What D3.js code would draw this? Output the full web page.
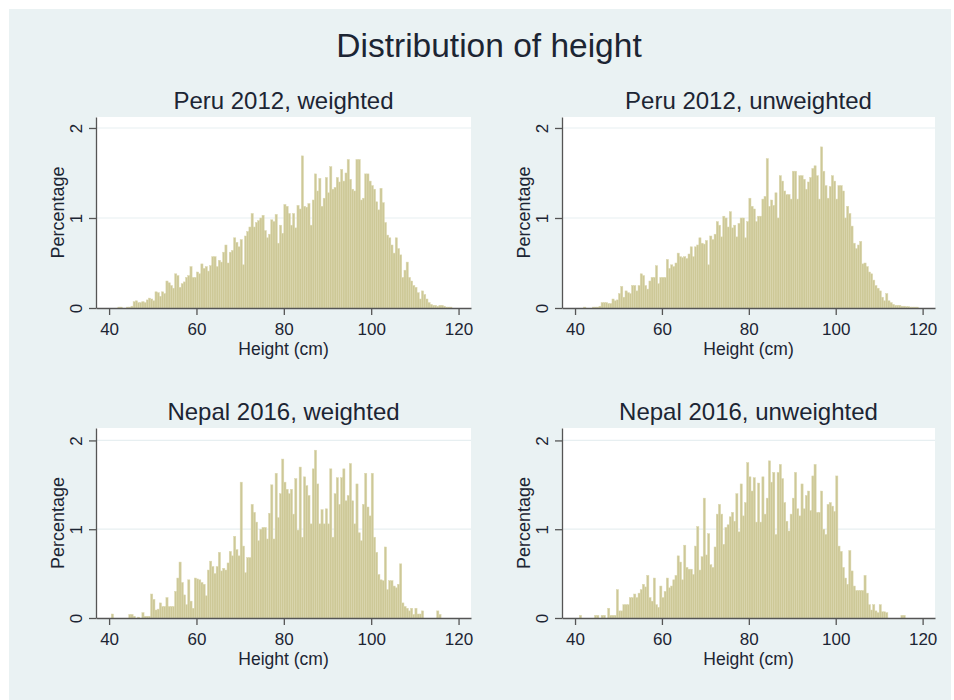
<!DOCTYPE html>
<html>
<head>
<meta charset="utf-8">
<script src="https://cdn.jsdelivr.net/npm/d3@7"></script>
<style>
  body { margin: 0; background: #fff; }
  svg text { font-family: "Liberation Sans", Arial, sans-serif; fill: #1c2533; }
</style>
</head>
<body>
<svg id="chart" width="954" height="700"></svg>
<script>
"use strict";

// histogram bins: 0.5 cm wide, first bin starts at 40 cm
const binStart = 40;
const binWidth = 0.5;

const xTicks = [40, 60, 80, 100, 120];
const yTicks = [0, 1, 2];

const mainTitle = "Distribution of height";
const panelTitles = ["Peru 2012, weighted", "Peru 2012, unweighted",
                     "Nepal 2016, weighted", "Nepal 2016, unweighted"];
const xTitle = "Height (cm)";
const yTitle = "Percentage";

// percentage of children per bin
const peruWeighted = [
    0, 0, 0, 0, 0.01, 0.01, 0, 0, 0.01, 0.01,
    0.02, 0.07, 0.08, 0.06, 0.06, 0.07, 0.06, 0.09, 0.11, 0.10,
    0.08, 0.18, 0.17, 0.13, 0.18, 0.16, 0.30, 0.28, 0.25, 0.22,
    0.38, 0.36, 0.23, 0.27, 0.29, 0.34, 0.36, 0.46, 0.34, 0.34,
    0.40, 0.38, 0.49, 0.44, 0.46, 0.41, 0.47, 0.57, 0.57, 0.46,
    0.53, 0.51, 0.62, 0.70, 0.50, 0.62, 0.64, 0.78, 0.73, 0.68,
    0.76, 0.48, 0.80, 0.85, 0.90, 1.05, 0.90, 0.95, 0.97, 1.00,
    1.03, 0.86, 0.78, 0.82, 0.98, 0.96, 1.04, 0.72, 0.92, 0.83,
    1.15, 1.13, 1.05, 0.92, 1.05, 0.89, 1.14, 1.10, 1.69, 1.13,
    1.12, 1.16, 0.92, 1.20, 1.49, 1.30, 1.44, 1.13, 1.22, 1.45,
    1.28, 1.57, 1.32, 1.34, 1.45, 1.40, 1.54, 1.41, 1.50, 1.65,
    1.43, 1.32, 1.30, 1.65, 1.65, 1.20, 1.22, 1.49, 1.49, 1.41,
    1.36, 1.32, 1.18, 1.09, 1.33, 1.17, 0.95, 0.81, 0.78, 0.70,
    0.61, 0.78, 0.66, 0.59, 0.34, 0.42, 0.51, 0.34, 0.30, 0.25,
    0.23, 0.17, 0.10, 0.19, 0.15, 0.10, 0.06, 0.04, 0.03, 0.03,
    0.02, 0.03, 0.03, 0.02, 0.01, 0.01, 0.01, 0, 0, 0
];

const peruUnweighted = [
    0, 0, 0, 0, 0.01, 0, 0, 0, 0.01, 0.01,
    0.01, 0.02, 0.06, 0.06, 0.06, 0.05, 0.05, 0.10, 0.08, 0.09,
    0.16, 0.24, 0.12, 0.19, 0.17, 0.16, 0.25, 0.25, 0.19, 0.25,
    0.38, 0.36, 0.25, 0.21, 0.30, 0.34, 0.34, 0.47, 0.27, 0.34,
    0.34, 0.34, 0.54, 0.44, 0.48, 0.46, 0.50, 0.61, 0.57, 0.56,
    0.57, 0.55, 0.60, 0.68, 0.57, 0.68, 0.70, 0.78, 0.72, 0.71,
    0.75, 0.48, 0.80, 0.76, 0.82, 0.96, 0.92, 0.79, 1.02, 1.00,
    0.90, 1.07, 0.89, 0.92, 0.79, 0.94, 1.00, 1.00, 0.78, 0.96,
    1.22, 1.13, 1.10, 0.96, 1.02, 1.02, 1.21, 1.24, 1.66, 1.13,
    1.20, 1.14, 1.28, 1.00, 1.47, 1.41, 1.30, 1.26, 1.26, 1.21,
    1.52, 1.52, 1.21, 1.47, 1.47, 1.43, 1.32, 1.40, 1.45, 1.55,
    1.58, 1.47, 1.21, 1.79, 1.52, 1.36, 1.22, 1.35, 1.47, 1.41,
    1.21, 1.36, 1.36, 1.30, 1.00, 1.13, 1.05, 0.91, 0.72, 0.66,
    0.70, 0.74, 0.49, 0.50, 0.46, 0.40, 0.38, 0.31, 0.25, 0.22,
    0.19, 0.12, 0.08, 0.16, 0.08, 0.06, 0.04, 0.03, 0.03, 0.03,
    0.02, 0.02, 0.015, 0.015, 0.01, 0.01, 0.01, 0.01, 0, 0
];

const nepalWeighted = [
    0, 0.045, 0, 0, 0, 0, 0, 0, 0, 0.04,
    0.04, 0.02, 0, 0.01, 0, 0.06, 0.02, 0.02, 0.02, 0.27,
    0.21, 0.09, 0.10, 0.17, 0.13, 0.13, 0.23, 0.13, 0.13, 0.13,
    0.30, 0.45, 0.63, 0.40, 0.26, 0.15, 0.43, 0.19, 0.11, 0.45,
    0.44, 0.43, 0.40, 0.38, 0.25, 0.54, 0.64, 0.58, 0.50, 0.58,
    0.74, 0.53, 0.56, 0.54, 0.62, 0.75, 0.70, 0.92, 0.77, 0.70,
    1.53, 0.81, 0.51, 0.68, 0.68, 1.28, 1.19, 1.08, 0.87, 1.00,
    1.02, 1.02, 0.89, 1.18, 1.50, 0.89, 1.63, 1.13, 1.40, 1.79,
    1.53, 1.45, 1.40, 1.45, 1.17, 1.57, 0.99, 1.70, 0.91, 1.59,
    1.49, 1.38, 1.06, 1.68, 1.89, 1.51, 1.06, 1.22, 1.06, 1.23,
    1.06, 1.68, 0.91, 1.40, 1.58, 1.28, 1.58, 1.68, 1.32, 1.38,
    1.74, 1.32, 1.06, 1.51, 0.96, 0.87, 1.28, 1.63, 1.25, 1.15,
    1.63, 0.91, 0.74, 0.49, 0.43, 0.42, 0.80, 0.32, 0.42, 0.42,
    0.36, 0.34, 0.38, 0.61, 0.17, 0.13, 0.11, 0.08, 0.11, 0.04,
    0.11, 0.045, 0.045, 0.08, 0, 0, 0, 0, 0, 0,
    0.08, 0.04, 0, 0, 0, 0, 0, 0, 0, 0
];

const nepalUnweighted = [
    0, 0, 0.03, 0, 0, 0, 0, 0, 0, 0.03,
    0.03, 0, 0.03, 0.03, 0, 0.11, 0.03, 0.03, 0.03, 0.32,
    0.08, 0.08, 0.15, 0.15, 0.15, 0.23, 0.23, 0.27, 0.23, 0.28,
    0.32, 0.38, 0.35, 0.48, 0.23, 0.19, 0.45, 0.15, 0.12, 0.36,
    0.23, 0.30, 0.45, 0.34, 0.36, 0.43, 0.48, 0.70, 0.63, 0.43,
    0.82, 0.57, 0.55, 0.55, 0.49, 0.81, 1.03, 0.54, 0.69, 1.35,
    0.71, 0.95, 0.60, 0.57, 0.80, 1.17, 1.28, 1.17, 0.83, 1.02,
    1.05, 1.14, 1.19, 1.09, 1.40, 0.97, 1.51, 1.15, 1.30, 1.75,
    1.59, 1.43, 1.58, 1.08, 1.52, 1.08, 1.59, 1.17, 1.35, 1.77,
    1.53, 1.64, 0.94, 1.64, 1.73, 1.57, 1.30, 1.09, 0.98, 1.17,
    1.35, 1.64, 1.23, 1.15, 1.51, 1.23, 1.38, 1.43, 1.21, 1.60,
    1.73, 1.19, 1.19, 1.43, 1.00, 0.94, 1.28, 1.30, 1.26, 1.20,
    1.60, 0.81, 0.75, 0.57, 0.45, 0.38, 0.76, 0.53, 0.36, 0.31,
    0.31, 0.31, 0.31, 0.48, 0.28, 0.15, 0.09, 0.15, 0.08, 0.06,
    0.15, 0.07, 0.07, 0.06, 0, 0, 0, 0, 0, 0,
    0.03, 0.03, 0, 0, 0, 0, 0, 0, 0, 0
];

const svg = d3.select("#chart");

// graph region
svg.append("rect").attr("x", 9).attr("y", 9).attr("width", 942).attr("height", 691)
    .attr("fill", "#eaf2f3");

svg.append("text")
    .attr("x", 489).attr("y", 57)
    .attr("text-anchor", "middle")
    .style("font-size", "33.5px")
    .text(mainTitle);

const panels = [
    { title: panelTitles[0], values: peruWeighted,    left: 96,  right: 471, top: 117, bottom: 308, ymax: 2.122 },
    { title: panelTitles[1], values: peruUnweighted,  left: 562, right: 935, top: 117, bottom: 308, ymax: 2.122 },
    { title: panelTitles[2], values: nepalWeighted,   left: 96,  right: 471, top: 428, bottom: 618, ymax: 2.14 },
    { title: panelTitles[3], values: nepalUnweighted, left: 562, right: 935, top: 428, bottom: 618, ymax: 2.14 }
];

panels.forEach(p => drawPanel(p));

function drawPanel(p) {
    const x = d3.scaleLinear().domain([37, 122.85]).range([p.left, p.right]);
    const y = d3.scaleLinear().domain([0, p.ymax]).range([p.bottom, p.top]);

    const g = svg.append("g");

    g.append("rect")
        .attr("x", p.left).attr("y", p.top)
        .attr("width", p.right - p.left).attr("height", p.bottom - p.top)
        .attr("fill", "#fff");

    // horizontal grid
    g.selectAll("line.grid")
        .data(yTicks.filter(v => v > 0))
        .join("line")
        .attr("class", "grid")
        .attr("x1", p.left).attr("x2", p.right)
        .attr("y1", d => y(d)).attr("y2", d => y(d))
        .attr("stroke", "#e7eff1").attr("stroke-width", 1.2);

    const bins = p.values.map((v, i) => ({ x0: binStart + i * binWidth, value: v }));

    g.selectAll("rect.bar")
        .data(bins.filter(b => b.value > 0))
        .join("rect")
        .attr("class", "bar")
        .attr("x", d => x(d.x0))
        .attr("width", d => x(d.x0 + binWidth) - x(d.x0))
        .attr("y", d => y(d.value))
        .attr("height", d => y(0) - y(d.value))
        .attr("fill", "#cdc897")
        .attr("stroke", "#dcd8b0")
        .attr("stroke-width", 0.5);

    // x axis
    const xa = g.append("g")
        .attr("transform", `translate(0,${p.bottom})`)
        .call(d3.axisBottom(x).tickValues(xTicks).tickSize(7).tickSizeOuter(0));
    xa.attr("font-family", null).attr("font-size", null);
    xa.select(".domain").attr("stroke", "#555").attr("stroke-width", 1.3);
    xa.selectAll(".tick line").attr("stroke", "#555").attr("stroke-width", 1.3);
    xa.selectAll(".tick text")
        .attr("y", 27).attr("dy", 0)
        .style("font-size", "17px");

    // y axis
    const ya = g.append("g")
        .attr("transform", `translate(${p.left},0)`)
        .call(d3.axisLeft(y).tickValues(yTicks).tickFormat(d3.format("d"))
            .tickSize(7).tickSizeOuter(0));
    ya.attr("font-family", null).attr("font-size", null);
    ya.select(".domain").attr("stroke", "#555").attr("stroke-width", 1.3);
    ya.selectAll(".tick line").attr("stroke", "#555").attr("stroke-width", 1.3);
    ya.selectAll(".tick text")
        .attr("transform", "rotate(-90)")
        .attr("x", 0).attr("y", -14).attr("dy", 0)
        .attr("text-anchor", "middle")
        .style("font-size", "17px");

    const cx = (p.left + p.right) / 2;

    g.append("text")
        .attr("x", cx).attr("y", p.top - 8)
        .attr("text-anchor", "middle")
        .style("font-size", "24px")
        .text(p.title);

    g.append("text")
        .attr("x", cx).attr("y", p.bottom + 47)
        .attr("text-anchor", "middle")
        .style("font-size", "17.5px")
        .text(xTitle);

    g.append("text")
        .attr("transform", `translate(${p.left - 32},${(p.top + p.bottom) / 2}) rotate(-90)`)
        .attr("text-anchor", "middle")
        .style("font-size", "18px")
        .text(yTitle);
}
</script>
</body>
</html>
